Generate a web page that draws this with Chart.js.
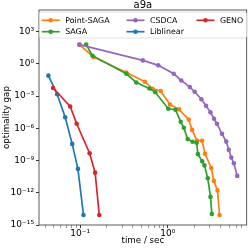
<!DOCTYPE html>
<html>
<head>
<meta charset="utf-8">
<script src="https://cdn.jsdelivr.net/npm/chart.js@4.4.1/dist/chart.umd.min.js"></script>
<style>
  html, body { margin: 0; padding: 0; background: #fff; }
</style>
</head>
<body>
<canvas id="chart" width="249" height="249"></canvas>
<script>
// values (time in sec, optimality gap)
var pointSagaTime = [0.098, 0.142, 0.336, 0.546, 0.668, 0.828, 1.057, 1.34, 1.73, 1.89, 2.14, 2.45, 2.65, 3.12, 3.34, 3.68, 3.88];
var pointSagaGap = [60, 4.3, 0.155, 0.0214, 4.7e-3, 2.95e-3, 1.62e-4, 5.7e-5, 6.4e-6, 7e-7, 7.3e-8, 6.8e-8, 4.2e-9, 2e-10, 1.26e-11, 1.66e-12, 8.5e-15];

var sagaTime = [0.117, 0.138, 0.336, 0.436, 0.615, 0.72, 1.01, 1.22, 1.40, 1.52, 1.68, 1.91, 2.13, 2.20, 2.46, 2.61, 2.85, 3.06, 3.17];
var sagaGap = [60, 5.6, 0.117, 0.018, 5e-3, 2.2e-3, 6.5e-5, 5.3e-5, 4e-6, 1.1e-6, 9.8e-8, 5.5e-8, 4.4e-8, 3.9e-9, 8.3e-10, 3.5e-10, 2.2e-11, 4.1e-13, 1.07e-14];

var csdcaTime = [0.098, 0.518, 0.778, 1.165, 1.42, 1.78, 2.02, 2.41, 2.72, 3.06, 3.36, 3.63, 4.14, 4.63, 4.95, 5.28, 5.65, 6.18];
var csdcaGap = [60, 2.04, 0.71, 0.117, 0.028, 6.7e-3, 2.5e-3, 5e-4, 1.23e-4, 3e-5, 7.6e-6, 2.6e-6, 3e-7, 5.7e-8, 9.8e-9, 1.86e-9, 5.6e-10, 3.7e-11];

var liblinearTime = [0.0434, 0.0546, 0.0674, 0.081, 0.0942, 0.109];
var liblinearGap = [0.078, 1.45e-3, 1.05e-5, 3.5e-8, 1.66e-10, 8.5e-15];

var genoTime = [0.0491, 0.0769, 0.0912, 0.128, 0.148, 0.165];
var genoGap = [5.5e-3, 1.07e-4, 2.6e-6, 4.8e-9, 7.4e-11, 8.5e-15];

var seriesNames = ["Point-SAGA", "SAGA", "CSDCA", "Liblinear", "GENO"];
var seriesColors = ["#ff7f0e", "#2ca02c", "#9467bd", "#1f77b4", "#d62728"];

var xTickValues = [0.04, 0.05, 0.06, 0.07, 0.08, 0.09, 0.1, 0.2, 0.3, 0.4, 0.5, 0.6, 0.7, 0.8, 0.9, 1, 2, 3, 4, 5, 6, 7];
var xTickLabels = { "0.1": "10\u207B\u00B9", "1": "10\u2070" };
var yTickValues = [1e-15, 1e-12, 1e-9, 1e-6, 1e-3, 1, 1e3];
var yTickLabels = ["10\u207B\u00B9\u2075", "10\u207B\u00B9\u00B2", "10\u207B\u2079", "10\u207B\u2076", "10\u207B\u00B3", "10\u2070", "10\u00B3"];

var FONT = "DejaVu Sans";

function toPoints(xs, ys) {
  var pts = [];
  for (var i = 0; i < xs.length; i++) {
    pts.push({ x: xs[i], y: ys[i] });
  }
  return pts;
}

var allSeries = [
  toPoints(pointSagaTime, pointSagaGap),
  toPoints(sagaTime, sagaGap),
  toPoints(csdcaTime, csdcaGap),
  toPoints(liblinearTime, liblinearGap),
  toPoints(genoTime, genoGap)
];

var datasets = allSeries.map(function (pts, i) {
  return {
    label: seriesNames[i],
    data: pts,
    borderColor: seriesColors[i],
    backgroundColor: seriesColors[i],
    borderWidth: 1.7,
    pointRadius: 2.3,
    pointBorderWidth: 0,
    pointHoverRadius: 2.3,
    tension: 0,
    fill: false,
    order: seriesNames.length - 1 - i
  };
});

// frame + matplotlib-like legend box
var framePlugin = {
  id: "frame",
  afterDatasetsDraw: function (chart) {
    var a = chart.chartArea;
    var ctx = chart.ctx;
    ctx.save();
    ctx.strokeStyle = "#333";
    ctx.lineWidth = 0.8;
    ctx.strokeRect(a.left, a.top, a.right - a.left, a.bottom - a.top);
    ctx.restore();
  },
  afterDraw: function (chart) {
    var ctx = chart.ctx;
    var colX = [41.7, 126.5, 196.5];
    var rowY = [20.3, 31.7];
    ctx.save();
    ctx.fillStyle = "rgba(255,255,255,0.8)";
    ctx.strokeStyle = "#d9d9d9";
    ctx.lineWidth = 0.8;
    ctx.beginPath();
    ctx.roundRect(39.5, 12, 207, 26, 2);
    ctx.fill();
    ctx.stroke();
    ctx.font = "7.9px '" + FONT + "'";
    ctx.textBaseline = "middle";
    ctx.fillStyle = "#000";
    seriesNames.forEach(function (name, i) {
      var col = Math.floor(i / 2);
      var row = i % 2;
      var x0 = colX[col];
      var y0 = rowY[row];
      ctx.strokeStyle = seriesColors[i];
      ctx.lineWidth = 1.7;
      ctx.beginPath();
      ctx.moveTo(x0, y0);
      ctx.lineTo(x0 + 18, y0);
      ctx.stroke();
      ctx.fillStyle = seriesColors[i];
      ctx.beginPath();
      ctx.arc(x0 + 9, y0, 2.3, 0, Math.PI * 2);
      ctx.fill();
      ctx.fillStyle = "#000";
      ctx.fillText(name, x0 + 23.5, y0 + 0.5);
    });
    ctx.restore();
  }
};

var chart = new Chart(document.getElementById("chart"), {
  type: "line",
  data: { datasets: datasets },
  options: {
    responsive: false,
    animation: false,
    events: [],
    layout: { padding: { top: 0, right: 1, left: 0, bottom: 0 } },
    plugins: {
      legend: { display: false },
      tooltip: { enabled: false },
      title: {
        display: true,
        text: "a9a",
        fullSize: false,
        color: "#000",
        font: { family: FONT, size: 10, weight: "normal", lineHeight: 1 },
        padding: { top: 0, bottom: 0 }
      }
    },
    scales: {
      x: {
        type: "logarithmic",
        min: 0.0339,
        max: 7.92,
        border: { display: false },
        grid: {
          display: true,
          drawOnChartArea: false,
          drawTicks: true,
          tickLength: 3,
          tickColor: function (c) { return c.tick && c.tick.major ? "#000" : "#555"; },
          tickWidth: function (c) { return c.tick && c.tick.major ? 0.8 : 0.6; }
        },
        afterBuildTicks: function (scale) {
          scale.ticks = xTickValues.map(function (v) {
            return { value: v, major: xTickLabels[String(v)] !== undefined };
          });
        },
        afterFit: function (scale) { scale.height = 24; },
        ticks: {
          autoSkip: false,
          maxRotation: 0,
          padding: 0,
          color: "#000",
          font: { family: FONT, size: 9 },
          callback: function (v) { return xTickLabels[String(v)] || ""; }
        },
        title: {
          display: true,
          text: "time / sec",
          color: "#000",
          font: { family: FONT, size: 8.7 },
          padding: { top: 0, bottom: 3 }
        }
      },
      y: {
        type: "logarithmic",
        min: 1e-15,
        max: 1e5,
        border: { display: false },
        grid: {
          display: true,
          drawOnChartArea: false,
          drawTicks: true,
          tickLength: 3,
          tickColor: "#000",
          tickWidth: 0.8
        },
        afterBuildTicks: function (scale) {
          scale.ticks = yTickValues.map(function (v) { return { value: v }; });
        },
        afterFit: function (scale) { scale.width = 39; },
        ticks: {
          autoSkip: false,
          padding: 2,
          color: "#000",
          font: { family: FONT, size: 9 },
          callback: function (v, i) { return yTickLabels[yTickValues.indexOf(v)] || ""; }
        },
        title: {
          display: true,
          text: "optimality gap",
          color: "#000",
          font: { family: FONT, size: 8.7 },
          padding: { top: 2, bottom: 0 }
        }
      }
    }
  },
  plugins: [framePlugin]
});
</script>
</body>
</html>
